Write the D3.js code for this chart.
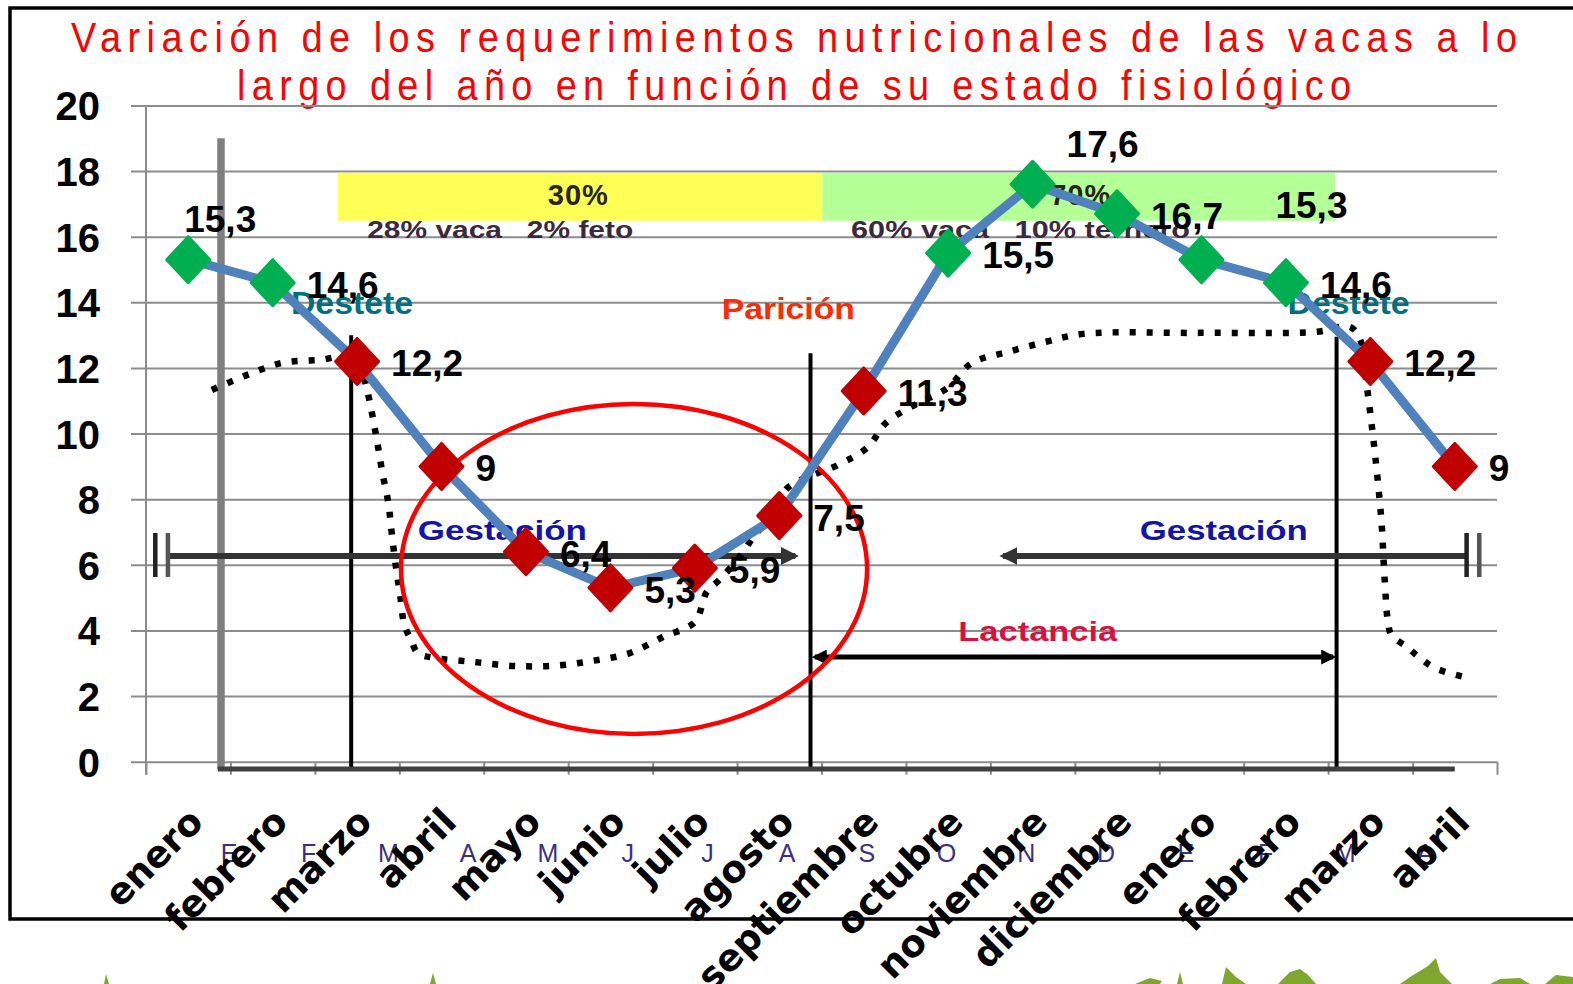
<!DOCTYPE html>
<html>
<head>
<meta charset="utf-8">
<script src="https://cdn.jsdelivr.net/npm/d3@7"></script>
<style>
    html, body { margin: 0; padding: 0; background: #fff; }
    svg { display: block; }
</style>
</head>
<body>
<div id="chart"></div>
<script>
// ejes y datos del grafico
var months = ["enero", "febrero", "marzo", "abril", "mayo", "junio", "julio", "agosto",
    "septiembre", "octubre", "noviembre", "diciembre", "enero", "febrero", "marzo", "abril"];
var requirements = [15.3, 14.6, 12.2, 9, 6.4, 5.3, 5.9, 7.5, 11.3, 15.5, 17.6, 16.7, 15.3, 14.6, 12.2, 9];
var pointLabels = ["15,3", "14,6", "12,2", "9", "6,4", "5,3", "5,9", "7,5", "11,3", "15,5", "17,6", "16,7", "15,3", "14,6", "12,2", "9"];
//"g" = verde, "r" = rojo
var markerState = ["g", "g", "r", "r", "r", "r", "r", "r", "r", "g", "g", "g", "g", "g", "r", "r"];
var yTicks = [0, 2, 4, 6, 8, 10, 12, 14, 16, 18, 20];
var monthLetters = ["E", "F", "M", "A", "M", "J", "J", "A", "S", "O", "N", "D", "E", "F", "M", "A"];
var titleLines = ["Variación de los requerimientos nutricionales de las vacas a lo",
    "largo del año en función de su estado fisiológico"];

//bandas de gestacion (indice de mes)
var bandStart = [1.77, 7.51];
var bandEnd = [7.51, 13.58];
var bandTop = 17.95, bandBottom = 16.49;
var bandText = ["30%", "70%"];
var bandSub = ["28% vaca   2% feto", "60% vaca   10% ternero"];

//curva punteada (estado corporal), indice de mes / valor
var curveIdx = [0.28, 0.70, 1.12, 1.58, 1.85, 2.03, 2.11, 2.18, 2.24, 2.30, 2.37, 2.41, 2.46, 2.51, 2.56,
    2.64, 2.72, 2.93, 3.38, 3.85, 4.32, 4.78, 5.23, 5.62, 6.00, 6.14, 6.29, 6.53, 6.71, 6.89,
    7.10, 7.70, 8.05, 8.26, 8.60, 8.99, 9.28, 9.71, 10.16, 10.60, 11.98, 13.36, 13.76, 13.88, 13.96,
    14.05, 14.13, 14.17, 14.21, 14.25, 14.43, 14.59, 14.76, 15.16];
var curveVal = [11.33, 11.79, 12.16, 12.25, 12.35, 12.09, 11.42, 10.57, 9.72, 8.80, 7.89, 6.97, 5.94, 5.08, 4.17,
    3.71, 3.31, 3.16, 3.04, 2.92, 2.92, 3.07, 3.31, 3.80, 4.26, 5.17, 5.54, 6.24, 6.91, 7.43,
    8.35, 9.05, 9.59, 10.32, 10.87, 11.39, 12.15, 12.49, 12.80, 13.04, 13.07, 13.10, 13.25, 12.86, 11.42,
    9.50, 7.37, 5.54, 4.23, 3.86, 3.50, 3.16, 2.86, 2.55];

//lineas verticales (destete, paricion, ...)
var eventIdx = [1.93, 7.37, 13.60];
var eventTop = [13.0, 12.45, 12.95];

////////////////////////////////////////////////////////////////////////////////////////////////

var W = 1573, H = 984;
var svg = d3.select("#chart").append("svg")
    .attr("width", W)
    .attr("height", H);

svg.append("rect").attr("width", W).attr("height", H).attr("fill", "#fff");

var x = d3.scaleLinear().domain([-0.5, 15.5]).range([146, 1497]);
var y = d3.scaleLinear().domain([0, 20]).range([761.7, 105.5]);

var defs = svg.append("defs");
function arrowMarker(id, color) {
    defs.append("marker")
        .attr("id", id)
        .attr("viewBox", "0 0 10 10")
        .attr("refX", 8).attr("refY", 5)
        .attr("markerWidth", 3).attr("markerHeight", 3)
        .attr("orient", "auto-start-reverse")
        .append("path")
        .attr("d", "M0,0 L10,5 L0,10 z")
        .attr("fill", color);
}
arrowMarker("arrDark", "#333");
arrowMarker("arrBlack", "#000");

//marco exterior
svg.append("rect")
    .attr("x", 10).attr("y", 8)
    .attr("width", 1620).attr("height", 911)
    .attr("fill", "none")
    .attr("stroke", "#000")
    .attr("stroke-width", 3.5);

//titulo (letra estrecha y espaciada)
var tScale = 0.88;
svg.append("g")
    .attr("transform", "scale(" + tScale + ",1)")
    .selectAll(".title")
    .data(titleLines)
    .enter().append("text")
    .attr("class", "title")
    .attr("x", function (d, i) { return (i === 0 ? 71 : 237) / tScale; })
    .attr("y", function (d, i) { return i === 0 ? 52 : 100; })
    .attr("textLength", function (d, i) { return (i === 0 ? 1446 : 1114) / tScale; })
    .attr("lengthAdjust", "spacing")
    .style("font-family", "'Liberation Sans', Arial, sans-serif")
    .style("font-size", "43px")
    .attr("fill", "#ff0000")
    .text(function (d) { return d; });

//grid + eje y
var yAxis = svg.append("g")
    .attr("transform", "translate(131,0)")
    .call(d3.axisLeft(y).tickValues(yTicks).tickSize(-(1497 - 131)).tickPadding(31).tickFormat(d3.format("d")));
yAxis.select(".domain").remove();
yAxis.selectAll("line").attr("stroke", "#8c8c8c").attr("stroke-width", 2);
yAxis.selectAll("text")
    .attr("dy", "0.36em")
    .style("font-family", "'Liberation Sans', Arial, sans-serif")
    .style("font-weight", "bold")
    .style("font-size", "40px")
    .attr("fill", "#000");

svg.append("line")
    .attr("x1", x(-0.5)).attr("x2", x(-0.5))
    .attr("y1", y(20)).attr("y2", y(0) + 13)
    .attr("stroke", "#8c8c8c").attr("stroke-width", 2);

//eje x: marcas entre meses
var xAxis = svg.append("g")
    .attr("transform", "translate(0," + y(0) + ")")
    .call(d3.axisBottom(x).tickValues(d3.range(-0.5, 16, 1)).tickSize(13).tickFormat(""));
xAxis.select(".domain").remove();
xAxis.selectAll("line").attr("stroke", "#8c8c8c").attr("stroke-width", 2);

//bandas amarilla / verde
svg.selectAll(".band")
    .data(bandStart)
    .enter().append("rect")
    .attr("class", "band")
    .attr("x", function (d) { return x(d); })
    .attr("y", y(bandTop))
    .attr("width", function (d, i) { return x(bandEnd[i]) - x(d); })
    .attr("height", y(bandBottom) - y(bandTop))
    .attr("fill", function (d, i) { return i === 0 ? "#ffff55" : "#b4ff96"; });

svg.selectAll(".bandText")
    .data(bandText)
    .enter().append("text")
    .attr("x", function (d, i) { return i === 0 ? x(4.62) : x(10.57); })
    .attr("y", y(16.97))
    .attr("text-anchor", "middle")
    .style("font-family", "'Liberation Sans', Arial, sans-serif")
    .style("font-weight", "bold")
    .style("font-size", "29px")
    .style("letter-spacing", "1px")
    .attr("fill", "#2a2414")
    .text(function (d) { return d; });

svg.selectAll(".bandSub")
    .data(bandSub)
    .enter().append("text")
    .attr("x", function (d, i) { return i === 0 ? x(2.12) : x(7.85); })
    .attr("y", y(15.97))
    .attr("textLength", function (d, i) { return i === 0 ? 266 : 339; })
    .attr("lengthAdjust", "spacingAndGlyphs")
    .style("white-space", "pre")
    .style("font-family", "'Liberation Sans', Arial, sans-serif")
    .style("font-weight", "bold")
    .style("font-size", "23px")
    .attr("fill", "#3a2a40")
    .text(function (d) { return d; });

//linea gris vertical (inicio)
svg.append("line")
    .attr("x1", x(0.388)).attr("x2", x(0.388))
    .attr("y1", y(19)).attr("y2", y(-0.22))
    .attr("stroke", "#7f7f7f").attr("stroke-width", 7.5);

//lineas negras verticales
svg.selectAll(".eventLine")
    .data(eventIdx)
    .enter().append("line")
    .attr("x1", function (d) { return x(d); })
    .attr("x2", function (d) { return x(d); })
    .attr("y1", function (d, i) { return y(eventTop[i]); })
    .attr("y2", y(-0.22))
    .attr("stroke", "#000").attr("stroke-width", 4);

//linea horizontal inferior
svg.append("line")
    .attr("x1", x(0.35)).attr("x2", x(15.0))
    .attr("y1", y(-0.22)).attr("y2", y(-0.22))
    .attr("stroke", "#404040").attr("stroke-width", 5);

//flechas de gestacion
svg.append("line")
    .attr("x1", x(-0.24)).attr("x2", x(7.19))
    .attr("y1", y(6.27)).attr("y2", y(6.27))
    .attr("stroke", "#333").attr("stroke-width", 6)
    .attr("marker-end", "url(#arrDark)");
svg.append("line")
    .attr("x1", x(9.65)).attr("x2", x(15.14))
    .attr("y1", y(6.27)).attr("y2", y(6.27))
    .attr("stroke", "#333").attr("stroke-width", 6)
    .attr("marker-start", "url(#arrDark)");

//barras dobles ||
var barIdx = [-0.39, -0.24, 15.14, 15.29];
svg.selectAll(".dbar")
    .data(barIdx)
    .enter().append("line")
    .attr("x1", function (d) { return x(d); })
    .attr("x2", function (d) { return x(d); })
    .attr("y1", y(6.97)).attr("y2", y(5.63))
    .attr("stroke", function (d, i) { return i % 2 === 0 ? "#222" : "#555"; })
    .attr("stroke-width", 4.5);

//flecha de lactancia
svg.append("line")
    .attr("x1", x(7.42)).attr("x2", x(13.56))
    .attr("y1", y(3.19)).attr("y2", y(3.19))
    .attr("stroke", "#000").attr("stroke-width", 5)
    .attr("marker-start", "url(#arrBlack)")
    .attr("marker-end", "url(#arrBlack)");

//curva punteada
var curvePts = curveIdx.map(function (d, i) { return [d, curveVal[i]]; });
svg.append("path")
    .datum(curvePts)
    .attr("d", d3.line()
        .x(function (d) { return x(d[0]); })
        .y(function (d) { return y(d[1]); })
        .curve(d3.curveCatmullRom.alpha(0.5)))
    .attr("fill", "none")
    .attr("stroke", "#000")
    .attr("stroke-width", 6.5)
    .attr("stroke-dasharray", "6 11");

//textos de estado fisiologico
var noteFont = "'Liberation Sans', Arial, sans-serif";
function note(txt, xi, yv, len, size, color) {
    svg.append("text")
        .attr("x", x(xi)).attr("y", y(yv))
        .attr("textLength", len)
        .attr("lengthAdjust", "spacingAndGlyphs")
        .style("font-family", noteFont)
        .style("font-weight", "bold")
        .style("font-size", size + "px")
        .attr("fill", color)
        .text(txt);
}
note("Destete", 1.217, 13.65, 122, 32, "#00707e");
note("Destete", 13.02, 13.65, 122, 32, "#00707e");
note("Parición", 6.32, 13.50, 133, 30, "#ff2a00");
note("Gestación", 2.72, 6.76, 169, 28, "#1414a8");
note("Gestación", 11.27, 6.76, 168, 28, "#1414a8");
note("Lactancia", 9.12, 3.68, 159, 27, "#dc1040");

//elipse roja
svg.append("ellipse")
    .attr("cx", x(5.28)).attr("cy", y(5.875))
    .attr("rx", x(5.28 + 2.76) - x(5.28))
    .attr("ry", y(0) - y(5.03))
    .attr("fill", "none")
    .attr("stroke", "#ff0000")
    .attr("stroke-width", 4.5);

//linea de requerimientos
svg.append("path")
    .datum(requirements)
    .attr("d", d3.line()
        .x(function (d, i) { return x(i); })
        .y(function (d) { return y(d); }))
    .attr("fill", "none")
    .attr("stroke", "#4f81bd")
    .attr("stroke-width", 9)
    .attr("stroke-linejoin", "round");

//marcadores rombo
svg.selectAll(".marker")
    .data(requirements)
    .enter().append("path")
    .attr("class", "marker")
    .attr("transform", function (d, i) { return "translate(" + x(i) + "," + y(d) + ")"; })
    .attr("d", "M0,-23 L21.5,0 L0,23 L-21.5,0 Z")
    .attr("fill", function (d, i) { return markerState[i] === "g" ? "#00b050" : "#c00000"; })
    .attr("stroke", function (d, i) { return markerState[i] === "g" ? "#00b050" : "#c00000"; })
    .attr("stroke-width", 3)
    .attr("stroke-linejoin", "round");

//etiquetas de valores
svg.selectAll(".ptLabel")
    .data(requirements)
    .enter().append("text")
    .attr("class", "ptLabel")
    .attr("x", function (d, i) {
        if (i === 0) return x(i) - 4;
        if (i === 12) return x(i) + 74;
        return x(i) + 34;
    })
    .attr("y", function (d, i) {
        if (i === 0) return y(d) - 28;
        if (i === 10) return y(d) - 27;
        if (i === 12) return y(d) - 42;
        return y(d) + 15;
    })
    .style("font-family", "'Liberation Sans', Arial, sans-serif")
    .style("font-weight", "bold")
    .style("font-size", "37px")
    .attr("fill", "#000")
    .text(function (d, i) { return pointLabels[i]; });

//letras de meses (fondo)
var letterX = d3.scalePoint().domain(d3.range(monthLetters.length)).range([229, 1425]);
svg.selectAll(".mLetter")
    .data(monthLetters)
    .enter().append("text")
    .attr("x", function (d, i) { return letterX(i); })
    .attr("y", 862)
    .attr("text-anchor", "middle")
    .style("font-family", "'Liberation Sans', Arial, sans-serif")
    .style("font-size", "25px")
    .attr("fill", "#3c2f80")
    .text(function (d) { return d; });

//nombres de meses rotados
svg.selectAll(".month")
    .data(months)
    .enter().append("text")
    .attr("class", "month")
    .attr("transform", function (d, i) { return "translate(" + (x(i) + 17) + ",824) rotate(-45)"; })
    .attr("text-anchor", "end")
    .style("font-family", "'DejaVu Sans', Verdana, sans-serif")
    .style("font-weight", "bold")
    .style("font-size", "37px")
    .attr("fill", "#000")
    .text(function (d) { return d; });

//decoracion vegetal inferior
var plants = [
    "M104,984 L106,974 L109,984 Z",
    "M430,984 L433,973 L436,984 Z",
    "M1135,984 L1150,978 L1162,981 L1160,984 Z",
    "M1177,984 L1180,972 L1183,984 Z",
    "M1222,984 L1226,967 L1236,977 L1246,984 Z",
    "M1278,984 L1290,972 L1300,969 L1308,975 L1316,984 Z",
    "M1400,984 L1410,977 L1428,966 L1436,958 L1440,972 L1452,984 Z",
    "M1490,984 L1500,979 L1520,978 L1530,984 Z",
    "M1545,984 L1556,975 L1573,977 L1573,984 Z"
];
svg.selectAll(".plant")
    .data(plants)
    .enter().append("path")
    .attr("d", function (d) { return d; })
    .attr("fill", "#7fa62e");
</script>
</body>
</html>
